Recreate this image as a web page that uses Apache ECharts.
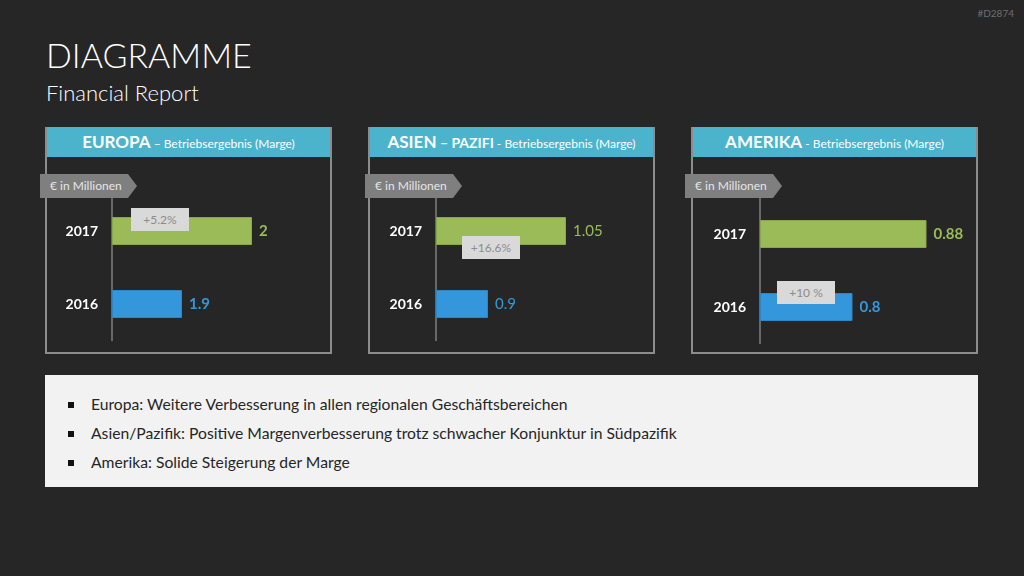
<!DOCTYPE html>
<html>
<head>
<meta charset="utf-8">
<script src="https://cdn.jsdelivr.net/npm/echarts@6.0.0/dist/echarts.min.js"></script>
<style>
  html, body { margin: 0; padding: 0; }
  body { width: 1024px; height: 576px; background: #262626; position: relative; overflow: hidden; font-family: "Lato", "Open Sans", sans-serif; }
  .abs { position: absolute; }
  #chart { left: 0; top: 0; width: 1024px; height: 576px; z-index: 1; }
  .title { left: 46px; top: 34px; color: #fff; font-size: 34px; font-weight: 300; }
  .subtitle { left: 46px; top: 79px; color: #fff; font-size: 22px; font-weight: 300; }
  .docid { right: 10px; top: 7px; color: #6e6e6e; font-size: 10px; }
  .panel { box-sizing: border-box; top: 127px; width: 287px; height: 227px; border: 2px solid #8c8c8c; border-top: none; z-index: 0; }
  .panel-head { top: 127px; width: 287px; height: 30px; background: #4bb4cc; color: #fff; text-align: center; line-height: 30px; white-space: nowrap; z-index: 0; }
  .panel-head b { font-size: 17px; }
  .panel-head .mid { font-size: 14px; font-weight: bold; }
  .panel-head .sub { font-size: 12px; }
  .tag { top: 174px; width: 97px; height: 24px; background: #7f7f7f; color: #e6e6e6; font-size: 12px; line-height: 24px; padding-left: 10px; box-sizing: border-box;
         clip-path: polygon(0 0, 88px 0, 97px 12px, 88px 24px, 0 24px); z-index: 2; }
  .chg { width: 58px; height: 23px; background: #d9d9d9; color: #8c8c8c; font-size: 12px; line-height: 23px; text-align: center; z-index: 2; }
  .notes { left: 45px; top: 375px; width: 933px; height: 112px; background: #f2f2f2; z-index: 0; }
  .notes ul { margin: 0; padding: 15px 0 0 46px; list-style: none; }
  .notes li { position: relative; font-size: 15.7px; color: #262626; line-height: 29px; }
  .notes li::before { content: ""; position: absolute; left: -23px; top: 12px; width: 6px; height: 6px; background: #111; }
</style>
</head>
<body>
<div class="abs title">DIAGRAMME</div>
<div class="abs subtitle">Financial Report</div>
<div class="abs docid">#D2874</div>
<div id="panels"></div>
<div id="chart" class="abs"></div>
<div class="abs notes"><ul id="notes"></ul></div>
<script>
// data (€ in Millionen, Betriebsergebnis)
const years = ["2016", "2017"];
const regionTitles = ["EUROPA", "ASIEN", "AMERIKA"];
const regionTitleExtra = ["", " – PAZIFI", ""];
const regionTitleDash = [" – ", " - ", " - "];
const values2016 = [1.9, 0.9, 0.8];
const values2017 = [2, 1.05, 0.88];
const axisMin = [1.8, 0.8, 0.7];
const axisMax = [2.1, 1.1, 0.9];
const changeLabels = ["+5.2%", "+16.6%", "+10 %"];
const unitLabel = "€ in Millionen";
const notes = [
  "Europa: Weitere Verbesserung in allen regionalen Geschäftsbereichen",
  "Asien/Pazifik: Positive Margenverbesserung trotz schwacher Konjunktur in Südpazifik",
  "Amerika: Solide Steigerung der Marge"
];

// layout (pixels)
const panelLeft = [45, 368, 691];
const tagLeft = [40, 365, 685];
const gridLeft = [112, 436, 760];
const gridTop = [194.5, 194.5, 197.5];
const gridWidth = [210, 156, 185];
const chgPos = [[131, 208], [462, 236], [777, 281]];
const labelBold = [true, false, true];

const GREEN = "#9bbb59";
const BLUE = "#3597db";

const panelsHost = document.getElementById("panels");
regionTitles.forEach((name, i) => {
  const head = document.createElement("div");
  head.className = "abs panel-head";
  head.style.left = panelLeft[i] + "px";
  head.innerHTML = `<b>${name}</b><span class="mid">${regionTitleExtra[i]}</span><span class="sub">${regionTitleDash[i]}Betriebsergebnis (Marge)</span>`;
  panelsHost.appendChild(head);

  const box = document.createElement("div");
  box.className = "abs panel";
  box.style.left = panelLeft[i] + "px";
  panelsHost.appendChild(box);

  const tag = document.createElement("div");
  tag.className = "abs tag";
  tag.style.left = tagLeft[i] + "px";
  tag.textContent = unitLabel;
  panelsHost.appendChild(tag);

  const chg = document.createElement("div");
  chg.className = "abs chg";
  chg.style.left = chgPos[i][0] + "px";
  chg.style.top = chgPos[i][1] + "px";
  chg.textContent = changeLabels[i];
  document.body.appendChild(chg);
});

const notesHost = document.getElementById("notes");
for (const line of notes) {
  const li = document.createElement("li");
  li.textContent = line;
  notesHost.appendChild(li);
}

const chart = echarts.init(document.getElementById("chart"), null, { renderer: "canvas" });

const grids = [], xAxes = [], yAxes = [], series = [];
regionTitles.forEach((_, i) => {
  grids.push({ left: gridLeft[i], top: gridTop[i], width: gridWidth[i], height: 146 });
  xAxes.push({
    type: "value", gridIndex: i, min: axisMin[i], max: axisMax[i], startValue: axisMin[i],
    show: false, splitLine: { show: false }
  });
  yAxes.push({
    type: "category", gridIndex: i, data: years,
    axisLine: { show: true, lineStyle: { color: "#7f7f7f", width: 1.5 } },
    axisTick: { show: false },
    axisLabel: { color: "#fff", fontWeight: "bold", fontSize: 14, margin: 14, fontFamily: "Lato" }
  });
  const weight = labelBold[i] ? "bold" : "normal";
  series.push({
    type: "bar", xAxisIndex: i, yAxisIndex: i, barWidth: 28, clip: true,
    label: { show: true, position: "right", distance: 7, fontSize: 15, fontWeight: weight, fontFamily: "Lato" },
    data: [
      { value: values2016[i], itemStyle: { color: BLUE, borderColor: "#2f86c4", borderWidth: 1 }, label: { color: BLUE } },
      { value: values2017[i], itemStyle: { color: GREEN, borderColor: "#88a64c", borderWidth: 1 }, label: { color: GREEN } }
    ]
  });
});

chart.setOption({
  animation: false,
  backgroundColor: "transparent",
  grid: grids,
  xAxis: xAxes,
  yAxis: yAxes,
  series: series
});
</script>
</body>
</html>
